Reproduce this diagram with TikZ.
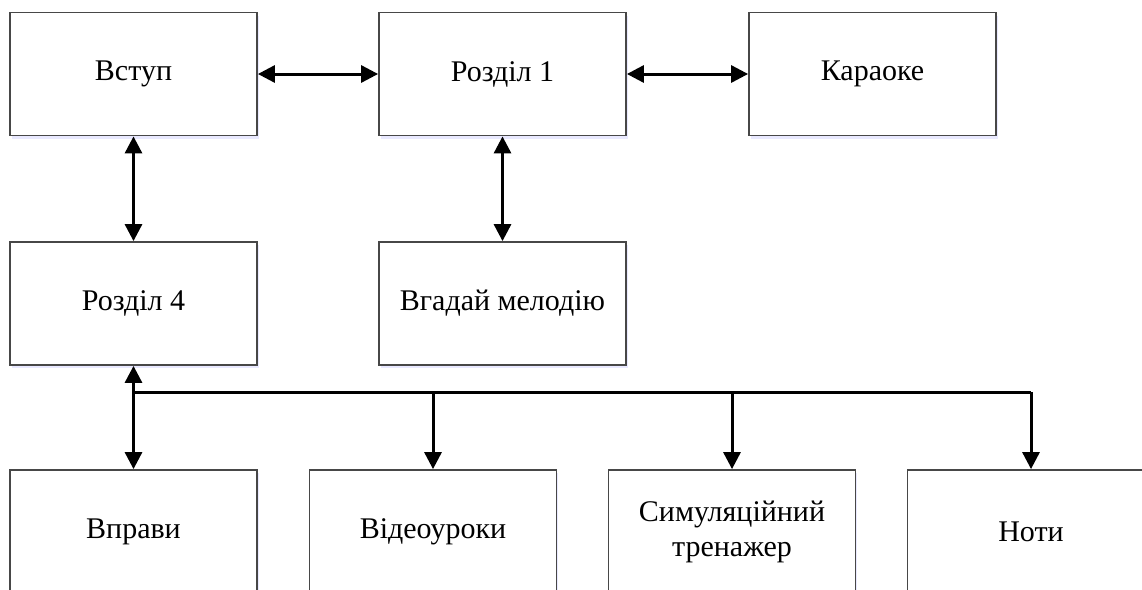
\documentclass[tikz,border=0pt]{standalone}
\usepackage{fontspec}
\setmainfont{Liberation Serif}
\newfontfamily\boxfont{Liberation Serif}
\usetikzlibrary{arrows.meta,shadows}
\begin{document}
\begin{tikzpicture}[x=1pt,y=-1pt,
  box/.style={draw=black!72, line width=1.8pt, fill=white, minimum width=247pt, minimum height=123pt,
    inner sep=0pt, align=center, font=\boxfont\fontsize{30}{35}\selectfont,
    drop shadow={shadow xshift=1.5pt, shadow yshift=-3pt, fill=blue!25, opacity=0.35}},
  conn/.style={line width=3pt, draw=black, -{Triangle[length=17pt,width=17pt]}},
  bconn/.style={line width=3pt, draw=black, {Triangle[length=17pt,width=17pt]}-{Triangle[length=17pt,width=17pt]}},
  bus/.style={line width=3pt, draw=black}]
\useasboundingbox (0,0) rectangle (1142,589);
\clip (0,0) rectangle (1142,589);
\node[box] (vstup) at (133.5,74) {Вступ};
\node[box] (r1) at (502.5,74) {Розділ 1};
\node[box] (karaoke) at (872.5,74) {Караоке};
\node[box] (r4) at (133.5,303.5) {Розділ 4};
\node[box] (melody) at (502.5,303.5) {Вгадай мелодію};
\node[box] (vpravy) at (133.5,531.5) {Вправи};
\node[box] (video) at (433,531.5) {Відеоуроки};
\node[box] (sim) at (732,531.5) {Симуляційний\\тренажер};
\node[box] (noty) at (1031,531.5) {Ноти};
\coordinate (bL) at (133.5,392);
\draw[bconn] (vstup.east) -- (r1.west);
\draw[bconn] (r1.east) -- (karaoke.west);
\draw[bconn] (vstup.south) -- (r4.north);
\draw[bconn] (r1.south) -- (melody.north);
\draw[bconn] (r4.south) -- (vpravy.north);
\draw[bus] (bL) -- (bL -| noty.north);
\draw[conn] (bL -| video.north) -- (video.north);
\draw[conn] (bL -| sim.north) -- (sim.north);
\draw[conn] (bL -| noty.north) -- (noty.north);
\end{tikzpicture}
\end{document}
